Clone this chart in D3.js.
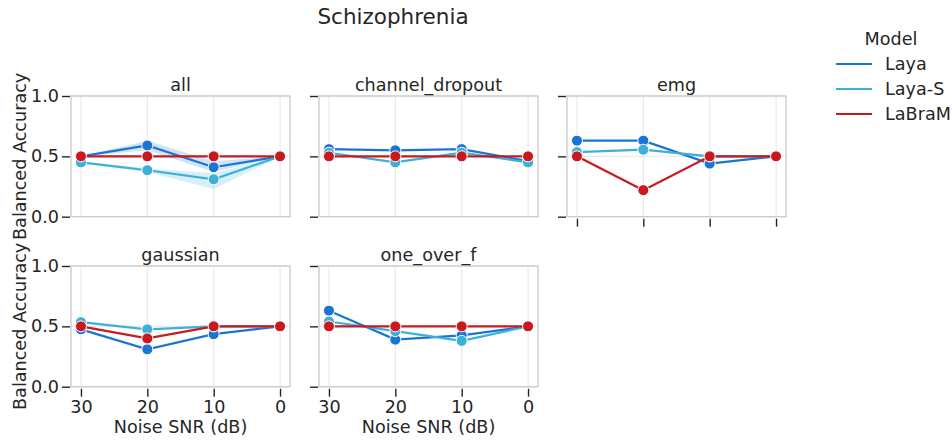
<!DOCTYPE html>
<html>
<head>
<meta charset="utf-8">
<script src="https://cdn.jsdelivr.net/npm/d3@7"></script>
<style>
  body { margin: 0; background: #fff; }
  text { font-family: "DejaVu Sans", sans-serif; fill: #262626; }
</style>
</head>
<body>
<div class="chart"></div>
<script>
// Data.
let snr = [30, 20, 10, 0];
let panels = ['all', 'channel_dropout', 'emg', 'gaussian', 'one_over_f'];
let models = ['Laya', 'Laya-S', 'LaBraM'];
let colors = ['#1a74d6', '#3bb0d8', '#c8191e'];

let laya = {
    all: [0.50, 0.59, 0.41, 0.50],
    channel_dropout: [0.56, 0.55, 0.56, 0.46],
    emg: [0.63, 0.63, 0.44, 0.50],
    gaussian: [0.475, 0.31, 0.435, 0.50],
    one_over_f: [0.63, 0.39, 0.425, 0.50]
};
let layaS = {
    all: [0.45, 0.385, 0.31, 0.50],
    channel_dropout: [0.53, 0.45, 0.53, 0.45],
    emg: [0.535, 0.555, 0.50, 0.50],
    gaussian: [0.535, 0.475, 0.50, 0.50],
    one_over_f: [0.54, 0.46, 0.38, 0.50]
};
let labram = {
    all: [0.50, 0.50, 0.50, 0.50],
    channel_dropout: [0.50, 0.50, 0.50, 0.50],
    emg: [0.50, 0.22, 0.50, 0.50],
    gaussian: [0.50, 0.40, 0.50, 0.50],
    one_over_f: [0.50, 0.50, 0.50, 0.50]
};
// Confidence bands (only visible in the "all" panel).
let layaCI = { all: [[0.50, 0.50], [0.55, 0.63], [0.37, 0.46], [0.50, 0.50]] };
let layaSCI = { all: [[0.44, 0.46], [0.37, 0.40], [0.23, 0.36], [0.50, 0.50]] };

let series = [laya, layaS, labram];
let bands = [layaCI, layaSCI, {}];

// Layout.
let width = 952, height = 444,
    pw = 219, ph = 120.7,
    colX = [71, 319, 567],
    rowY = [96, 266],
    fs = 17.6;

let svg = d3.select('.chart')
    .append('svg')
        .attr('width', width)
        .attr('height', height);

let x = d3.scaleLinear().domain([31.5, -1.5]).range([0, pw]);
let y = d3.scaleLinear().domain([0, 1]).range([ph, 0]);

panels.forEach((name, i) => {
    let row = Math.floor(i / 3), col = i % 3;
    let g = svg.append('g')
        .attr('transform', `translate(${colX[col]}, ${rowY[row]})`);

    // Grid.
    g.selectAll('.vgrid').data(snr).join('line')
        .attr('x1', d => x(d)).attr('x2', d => x(d))
        .attr('y1', 0).attr('y2', ph)
        .attr('stroke', '#ebebeb').attr('stroke-width', 1.2);
    g.selectAll('.hgrid').data([0, 0.5, 1]).join('line')
        .attr('x1', 0).attr('x2', pw)
        .attr('y1', d => y(d)).attr('y2', d => y(d))
        .attr('stroke', '#ebebeb').attr('stroke-width', 1.2);

    // Bands.
    series.forEach((s, k) => {
        let b = bands[k][name];
        if (!b) return;
        g.append('path')
            .datum(b.map((v, j) => ({x: snr[j], lo: v[0], hi: v[1]})))
            .attr('fill', colors[k])
            .attr('fill-opacity', 0.2)
            .attr('d', d3.area().x(d => x(d.x)).y0(d => y(d.lo)).y1(d => y(d.hi)));
    });

    // Lines + markers.
    series.forEach((s, k) => {
        let pts = s[name].map((v, j) => ({x: snr[j], v: v}));
        g.append('path')
            .datum(pts)
            .attr('fill', 'none')
            .attr('stroke', colors[k])
            .attr('stroke-width', 2.2)
            .attr('d', d3.line().x(d => x(d.x)).y(d => y(d.v)));
        g.selectAll(null).data(pts).join('circle')
            .attr('cx', d => x(d.x)).attr('cy', d => y(d.v))
            .attr('r', 5.5)
            .attr('fill', colors[k])
            .attr('stroke', '#fff').attr('stroke-width', 1);
    });

    // Frame.
    g.append('rect')
        .attr('width', pw).attr('height', ph)
        .attr('fill', 'none').attr('stroke', '#cccccc').attr('stroke-width', 1.4);

    // Axes.
    let showX = row === 1 || col === 2;
    let xAxis = d3.axisBottom(x).tickValues(snr).tickSize(8).tickPadding(4)
        .tickFormat(row === 1 ? d3.format('d') : '');
    let ax = g.append('g').attr('transform', `translate(0, ${ph + 2})`).call(xAxis);
    let yAxis = d3.axisLeft(y).tickValues([0, 0.5, 1]).tickSize(8).tickPadding(3)
        .tickFormat(col === 0 ? d3.format('.1f') : '');
    let ay = g.append('g').attr('transform', 'translate(-1, 0)').call(yAxis);
    [ax, ay].forEach(a => {
        a.select('.domain').remove();
        a.selectAll('line').attr('stroke', '#262626').attr('stroke-width', 1.4);
        a.selectAll('text').attr('font-size', fs).attr('fill', '#262626')
            .style('font-family', '"DejaVu Sans", sans-serif');
    });
    if (!showX) ax.remove();

    // Title.
    g.append('text')
        .attr('x', pw / 2).attr('y', -5)
        .attr('text-anchor', 'middle')
        .attr('font-size', fs)
        .text(name);

    if (row === 1) {
        g.append('text')
            .attr('x', pw / 2).attr('y', ph + 46)
            .attr('text-anchor', 'middle')
            .attr('font-size', fs)
            .text('Noise SNR (dB)');
    }
    if (col === 0) {
        g.append('text')
            .attr('transform', `translate(-45, ${ph / 2}) rotate(-90)`)
            .attr('text-anchor', 'middle')
            .attr('font-size', fs)
            .text('Balanced Accuracy');
    }
});

// Suptitle.
svg.append('text')
    .attr('x', 393).attr('y', 24)
    .attr('text-anchor', 'middle')
    .attr('font-size', 21.5)
    .text('Schizophrenia');

// Legend.
let legend = svg.append('g').attr('transform', 'translate(836, 0)');
legend.append('text')
    .attr('x', 55).attr('y', 45)
    .attr('text-anchor', 'middle')
    .attr('font-size', fs)
    .text('Model');
models.forEach((m, k) => {
    let ly = 64 + k * 25;
    legend.append('line')
        .attr('x1', 0).attr('x2', 36)
        .attr('y1', ly).attr('y2', ly)
        .attr('stroke', colors[k]).attr('stroke-width', 2.2);
    legend.append('text')
        .attr('x', 49).attr('y', ly + 6)
        .attr('font-size', fs)
        .text(m);
});
</script>
</body>
</html>
